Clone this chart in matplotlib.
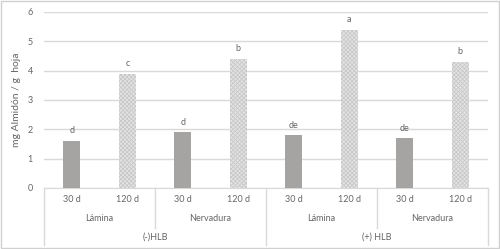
import matplotlib.pyplot as plt
from matplotlib.lines import Line2D
from matplotlib.patches import Rectangle

plt.rcParams['font.family'] = ['Lato', 'DejaVu Sans']
plt.rcParams['hatch.linewidth'] = 0.6

periodos = ['30 d', '120 d', '30 d', '120 d', '30 d', '120 d', '30 d', '120 d']
tejidos = ['Lámina', 'Nervadura', 'Lámina', 'Nervadura']
grupos = ['(-)HLB', '(+) HLB']
almidon = [1.6, 3.9, 1.9, 4.4, 1.8, 5.4, 1.7, 4.3]
letras = ['d', 'c', 'd', 'b', 'de', 'a', 'de', 'b']

txt = '#666666'
grid = '#d9d9d9'

fig = plt.figure(figsize=(5, 2.49), dpi=100)
fig.patches.append(Rectangle((0.002, 0.004), 0.996, 0.992, transform=fig.transFigure,
                             fill=False, edgecolor='#d0d0d0', lw=1))
ax = fig.add_axes([0.088, 0.245, 0.888, 0.707])

for i, v in enumerate(almidon):
    if i % 2 == 0:
        ax.bar(i, v, width=0.31, color='#a6a3a3', zorder=3)
    else:
        ax.bar(i, v, width=0.31, color='#e4e4e4', edgecolor='#c8c8c8', hatch='xxxxxxxx',
               linewidth=0, zorder=3)
    ax.annotate(letras[i], (i, v), xytext=(0, 4), textcoords='offset points',
                ha='center', va='bottom', fontsize=6.5, color=txt)

ax.set_xlim(-0.5, 7.5)
ax.set_ylim(0, 6)
ax.set_yticks([0, 1, 2, 3, 4, 5, 6])
ax.yaxis.grid(True, color=grid, lw=1, zorder=0)
ax.set_axisbelow(True)
for s in ['top', 'right', 'left']:
    ax.spines[s].set_visible(False)
ax.spines['bottom'].set_color(grid)
ax.tick_params(axis='y', length=0, labelsize=6.5, labelcolor=txt, pad=8)
ax.set_xticks([])
ax.set_ylabel('mg Almidón / g  hoja', fontsize=7.5, color=txt, labelpad=5)

tr = ax.get_xaxis_transform()
for i, p in enumerate(periodos):
    ax.text(i, -0.068, p, transform=tr, ha='center', va='center', fontsize=6.5, color=txt)
for j, t in enumerate(tejidos):
    ax.text(2 * j + 0.5, -0.176, t, transform=tr, ha='center', va='center', fontsize=6.5, color=txt)
for k, g in enumerate(grupos):
    ax.text(4 * k + 1.5, -0.278, g, transform=tr, ha='center', va='center', fontsize=6.5, color=txt)

for xs, y0 in [(-0.5, -0.324), (1.5, -0.227), (3.5, -0.324), (5.5, -0.227), (7.5, -0.324)]:
    ax.add_line(Line2D([xs, xs], [0, y0], transform=tr, color=grid, lw=1, clip_on=False))

fig.savefig('out.png', dpi=100)
